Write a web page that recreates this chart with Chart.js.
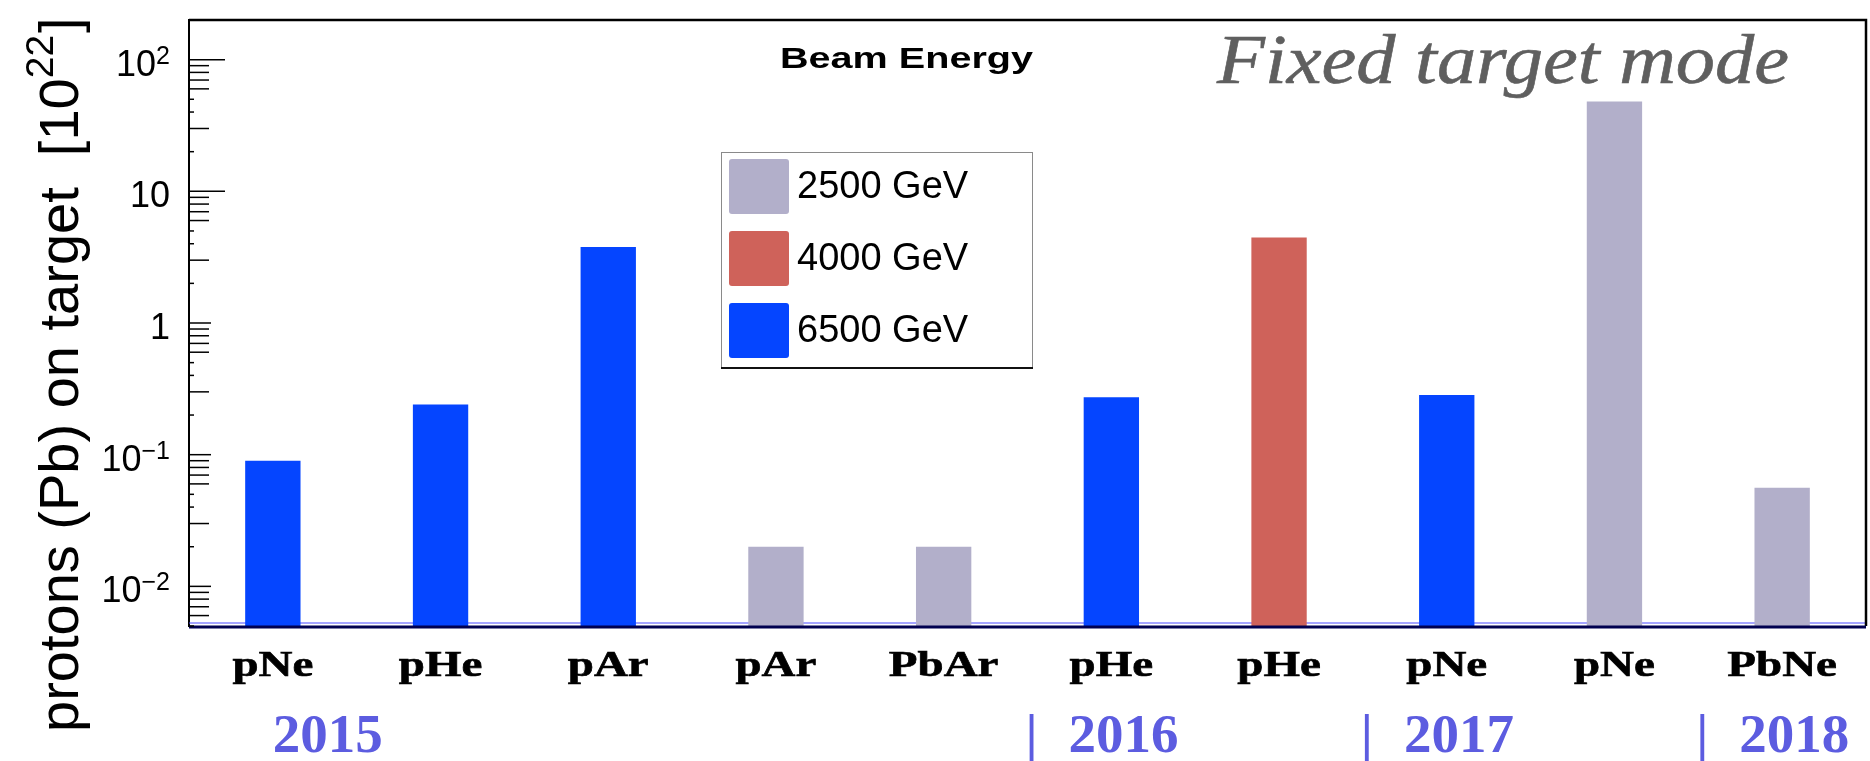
<!DOCTYPE html>
<html>
<head>
<meta charset="utf-8">
<script src="https://cdn.jsdelivr.net/npm/chart.js@4.4.0/dist/chart.umd.min.js"></script>
<style>
  body { margin: 0; background: #fff; }
  #wrap { width: 1870px; height: 761px; }
</style>
</head>
<body>
<div id="wrap"><canvas id="chart" width="1870" height="761"></canvas></div>
<script>
// runs (target gas) in time order
const categories = ["pNe", "pHe", "pAr", "pAr", "PbAr", "pHe", "pHe", "pNe", "pNe", "PbNe"];
const energies = ["2500 GeV", "4000 GeV", "6500 GeV"];
// protons (Pb) on target, units of 10^22
const pot2500 = [null, null, null, 0.020, 0.020, null, null, null, 48, 0.056];
const pot4000 = [null, null, null, null, null, null, 4.45, null, null, null];
const pot6500 = [0.090, 0.240, 3.78, null, null, 0.273, null, 0.284, null, null];
const years = ["2015", "2016", "2017", "2018"];
const yearFirstRun = [0, 5, 7, 9];
const yTicks = [0.01, 0.1, 1, 10, 100];
const yTickBase = ["10", "10", "1", "10", "10"];
const yTickExp = ["\u22122", "\u22121", "", "", "2"];

const colors = ["#b2afca", "#cf625a", "#0545ff"];

function stretchText(ctx, text, x, y, font, width, sy, bolder) {
  ctx.save();
  ctx.font = font;
  const sx = width ? width / ctx.measureText(text).width : 1;
  ctx.translate(x, y);
  ctx.scale(sx, sy || 1);
  ctx.fillText(text, 0, 0);
  if (bolder) {
    ctx.lineWidth = bolder;
    ctx.strokeStyle = ctx.fillStyle;
    ctx.strokeText(text, 0, 0);
  }
  ctx.restore();
}

// ROOT-like decorations: frame, inward ticks, labels, legend
const rootStyle = {
  id: "rootStyle",
  beforeDatasetsDraw(chart) {
    const { ctx, chartArea: a } = chart;
    ctx.save();
    ctx.strokeStyle = "#4a4aff";
    ctx.lineWidth = 1.2;
    ctx.beginPath();
    ctx.moveTo(a.left, a.bottom - 3);
    ctx.lineTo(a.right, a.bottom - 3);
    ctx.stroke();
    ctx.restore();
  },
  afterDraw(chart) {
    const { ctx, chartArea: a } = chart;
    const xs = chart.scales.x, ys = chart.scales.y;
    ctx.save();

    // top and right frame
    ctx.strokeStyle = "#000";
    ctx.lineWidth = 2.5;
    ctx.beginPath();
    ctx.moveTo(a.left, a.top);
    ctx.lineTo(a.right, a.top);
    ctx.lineTo(a.right, a.bottom);
    ctx.stroke();

    // bottom axis line (dark navy)
    ctx.strokeStyle = "#000050";
    ctx.lineWidth = 3;
    ctx.beginPath();
    ctx.moveTo(a.left, a.bottom + 1);
    ctx.lineTo(a.right, a.bottom + 1);
    ctx.stroke();

    // inward y ticks
    ctx.strokeStyle = "#000";
    ctx.lineWidth = 1.5;
    for (let k = -3; k <= 2; k++) {
      for (let m = 1; m <= 9; m++) {
        const v = m * Math.pow(10, k);
        if (v < ys.min || v > ys.max) continue;
        const y = ys.getPixelForValue(v);
        let len = 5;
        if (m === 1) len = k >= 1 ? 36 : 22;
        else if (m === 3 || m >= 6) len = 20;
        ctx.beginPath();
        ctx.moveTo(a.left, y);
        ctx.lineTo(a.left + len, y);
        ctx.stroke();
      }
    }

    // y tick labels with exponents
    ctx.fillStyle = "#000";
    ctx.textAlign = "right";
    ctx.textBaseline = "alphabetic";
    yTicks.forEach((v, i) => {
      const y = ys.getPixelForValue(v) + 16;
      let x = a.left - 19;
      if (yTickExp[i]) {
        ctx.font = "25px 'Liberation Sans'";
        ctx.fillText(yTickExp[i], x, y - 12);
        x -= ctx.measureText(yTickExp[i]).width;
      }
      ctx.font = "36px 'Liberation Sans'";
      ctx.fillText(yTickBase[i], x, y);
    });

    // category labels
    ctx.textAlign = "center";
    categories.forEach((c, i) => {
      stretchText(ctx, c, xs.getPixelForValue(i), 676, "bold 47px 'Liberation Serif'", null, 0.76, 0.8);
    });

    // year labels
    const step = xs.getPixelForValue(1) - xs.getPixelForValue(0);
    ctx.fillStyle = "#5c5ce0";
    years.forEach((yr, i) => {
      const r = yearFirstRun[i];
      if (i === 0) {
        ctx.textAlign = "left";
        stretchText(ctx, yr, xs.getPixelForValue(r), 752, "bold 55px 'Liberation Serif'");
      } else {
        const b = xs.getPixelForValue(r) - step / 2;
        ctx.textAlign = "center";
        stretchText(ctx, "|", b + 4, 752, "bold 55px 'Liberation Serif'");
        ctx.textAlign = "left";
        stretchText(ctx, yr, b + 41, 752, "bold 55px 'Liberation Serif'");
      }
    });

    // y axis title
    ctx.fillStyle = "#000";
    ctx.textAlign = "left";
    ctx.save();
    ctx.translate(78, 732);
    ctx.rotate(-Math.PI / 2);
    ctx.font = "56px 'Liberation Sans'";
    const main = "protons (Pb) on target  [10";
    ctx.fillText(main, 0, 0);
    let w = ctx.measureText(main).width;
    ctx.font = "39px 'Liberation Sans'";
    ctx.fillText("22", w, -25);
    w += ctx.measureText("22").width;
    ctx.font = "56px 'Liberation Sans'";
    ctx.fillText("]", w + 2, 0);
    ctx.restore();

    // headers
    stretchText(ctx, "Beam Energy", 780, 68, "bold 30px 'Liberation Sans'", 253);
    ctx.fillStyle = "#5f5f5f";
    stretchText(ctx, "Fixed target mode", 1217, 83, "italic 70px 'Liberation Serif'", 572, 1, 0.6);

    // legend
    const lx = 721, ly = 152, lw = 311, lh = 215;
    ctx.fillStyle = "#fff";
    ctx.fillRect(lx, ly, lw, lh);
    ctx.strokeStyle = "#8a8a8a";
    ctx.lineWidth = 1;
    ctx.strokeRect(lx + 0.5, ly + 0.5, lw, lh);
    ctx.strokeStyle = "#111";
    ctx.lineWidth = 2;
    ctx.beginPath();
    ctx.moveTo(lx, ly + lh + 1);
    ctx.lineTo(lx + lw + 1, ly + lh + 1);
    ctx.stroke();
    ctx.font = "38px 'Liberation Sans'";
    ctx.textBaseline = "middle";
    chart.data.datasets.forEach((ds, i) => {
      const sy = 159 + i * 72;
      ctx.fillStyle = ds.backgroundColor;
      ctx.beginPath();
      ctx.roundRect(729, sy, 60, 55, 3);
      ctx.fill();
      ctx.fillStyle = "#000";
      ctx.fillText(ds.label, 797, sy + 29);
    });

    ctx.restore();
  }
};

new Chart(document.getElementById("chart"), {
  type: "bar",
  data: {
    labels: categories,
    datasets: [
      { label: energies[0], data: pot2500, backgroundColor: colors[0] },
      { label: energies[1], data: pot4000, backgroundColor: colors[1] },
      { label: energies[2], data: pot6500, backgroundColor: colors[2] }
    ]
  },
  options: {
    responsive: false,
    animation: false,
    layout: { padding: { top: 20, right: 4, left: 0, bottom: 0 } },
    datasets: { bar: { grouped: false, barPercentage: 0.33, categoryPercentage: 1 } },
    plugins: { legend: { display: false }, tooltip: { enabled: false } },
    scales: {
      x: {
        grid: { display: false, drawTicks: false },
        border: { display: false },
        ticks: { display: false },
        afterFit: (s) => { s.height = 135; s.paddingLeft = 0; s.paddingRight = 0; }
      },
      y: {
        type: "logarithmic",
        min: 0.005,
        max: 200,
        grid: { display: false, drawTicks: false },
        border: { color: "#000", width: 2 },
        afterBuildTicks: (s) => { s.ticks = yTicks.map((v) => ({ value: v })); },
        ticks: { display: false },
        afterFit: (s) => { s.width = 189; s.paddingTop = 0; s.paddingBottom = 0; }
      }
    }
  },
  plugins: [rootStyle]
});
</script>
</body>
</html>
